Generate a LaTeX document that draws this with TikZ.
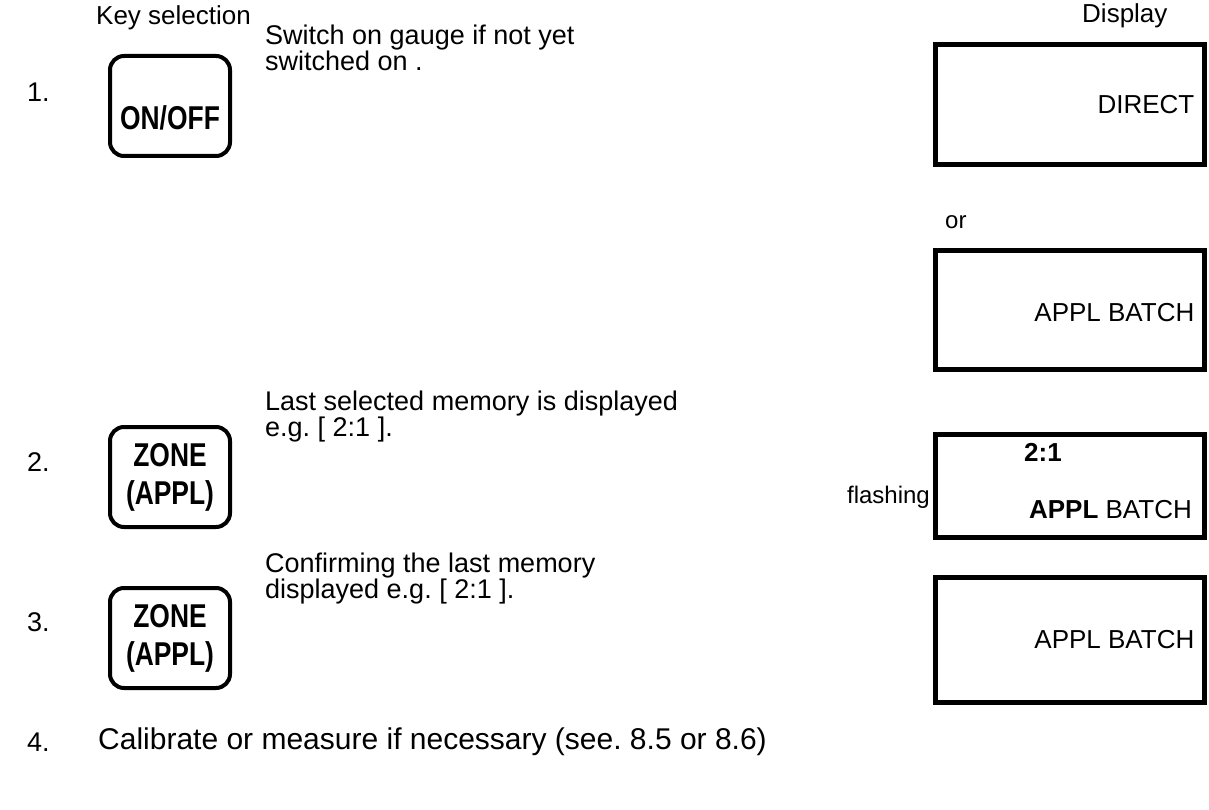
\documentclass[tikz,border=0pt]{standalone}
\usepackage{fontspec}
\setmainfont{Liberation Sans}
\newfontfamily\keyfont[FakeStretch=0.8]{Liberation Sans}
\usetikzlibrary{positioning}

\begin{document}
\frenchspacing
\begin{tikzpicture}[x=1pt, y=-1pt,
		key/.style = {rectangle, draw, line width=4pt, rounded corners=14pt, minimum width=120pt, minimum height=100pt, align=center, font=\keyfont\bfseries\fontsize{33}{38}\selectfont},
		disp/.style = {rectangle, draw, line width=5pt, minimum width=269pt},
		txt/.style = {anchor=west, align=left, inner sep=0pt, font=\fontsize{27}{26}\selectfont},
		dtxt/.style = {anchor=east, inner sep=0pt, font=\fontsize{26}{28}\selectfont},
		stxt/.style = {inner sep=0pt, font=\fontsize{24}{26}\selectfont},
		]
		\useasboundingbox (0, 0) rectangle (1209, 810);
		
		% === === Headings === ===
		\node[txt, font=\fontsize{26}{28}\selectfont]	(keyhead)	at	(96, 18)	{Key selection};
		\node[txt, font=\fontsize{26}{28}\selectfont]	(disphead)	at	(1082, 16)	{Display};
		
		% === === Step 1 === ===
		\node[txt]	(n1)	at	(27, 92)	{1.};
		\node[key, text height=54pt, text depth=6pt]	(onoff)	at	(170, 106)	{ON/OFF};
		\node[txt]	(t1)	at	(265, 48)	{Switch on gauge if not yet\\switched on .};
		\node[disp, minimum height=120pt]	(d1)	at	(1070, 104.5)	{};
		\node[dtxt]	at	([xshift=-12.5pt]d1.east)	{DIRECT};
		\node[stxt, anchor=west]	(or)	at	(945, 222)	{or};
		\node[disp, minimum height=119pt]	(d2)	at	(1070, 310)	{};
		\node[dtxt]	at	([xshift=-12.5pt, yshift=-3pt]d2.east)	{APPL BATCH};
		
		% === === Step 2 === ===
		\node[txt]	(n2)	at	(27, 462)	{2.};
		\node[key]	(zone1)	at	(170, 477)	{ZONE\\(APPL)};
		\node[txt]	(t2)	at	(265, 417)	{Last selected memory is displayed\\e.g. [ 2:1 ].};
		\node[disp, minimum height=103pt]	(d3)	at	(1070, 486)	{};
		\node[dtxt, font=\bfseries\fontsize{26}{28}\selectfont]	at	(1062, 452)	{2:1};
		\node[dtxt]	at	(1192, 510)	{\textbf{APPL} BATCH};
		\node[stxt, anchor=east]	(flash)	at	([xshift=-3pt]d3.west |- 0, 497)	{flashing};
		
		% === === Step 3 === ===
		\node[txt]	(n3)	at	(27, 622)	{3.};
		\node[key]	(zone2)	at	(170, 638)	{ZONE\\(APPL)};
		\node[txt]	(t3)	at	(265, 579)	{Confirming the last memory\\displayed e.g. [ 2:1 ].};
		\node[disp, minimum height=125pt]	(d4)	at	(1070, 640)	{};
		\node[dtxt]	at	([xshift=-12.5pt]d4.east)	{APPL BATCH};
		
		% === === Step 4 === ===
		\node[txt]	(n4)	at	(27, 742)	{4.};
		\node[txt, font=\fontsize{30}{30}\selectfont]	(t4)	at	(98, 742)	{Calibrate or measure if necessary (see. 8.5 or 8.6)};
		
	\end{tikzpicture}
\end{document}
